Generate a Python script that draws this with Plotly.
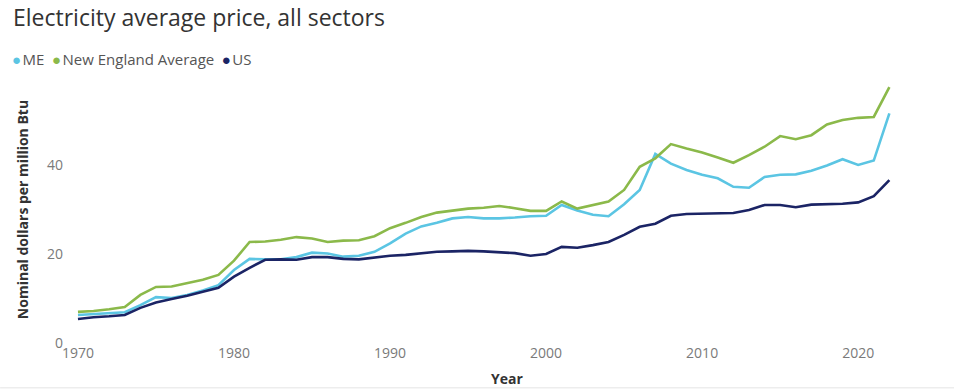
import plotly.graph_objects as go

# Annual average electricity price, all sectors (nominal $ per million Btu)
years = list(range(1970, 2023))

me = [6.3, 6.5, 6.8, 6.9, 8.5, 10.3, 10.1, 10.8, 11.8, 13.0,
      16.4, 18.9, 18.8, 18.8, 19.3, 20.3, 20.1, 19.4, 19.6, 20.5,
      22.4, 24.6, 26.2, 27.0, 28.0, 28.3, 28.0, 28.0, 28.2, 28.5,
      28.6, 31.0, 29.8, 28.8, 28.5, 31.2, 34.4, 42.5, 40.3, 38.9,
      37.8, 37.0, 35.1, 34.9, 37.3, 37.8, 37.9, 38.7, 39.9, 41.3,
      40.0, 41.0, 51.6]

new_england = [7.0, 7.2, 7.6, 8.1, 10.8, 12.6, 12.7, 13.5, 14.2, 15.3,
               18.5, 22.7, 22.8, 23.2, 23.8, 23.5, 22.7, 23.0, 23.1, 24.0,
               25.8, 27.0, 28.3, 29.3, 29.7, 30.2, 30.4, 30.8, 30.3, 29.7,
               29.7, 31.8, 30.2, 31.0, 31.8, 34.4, 39.6, 41.5, 44.7, 43.7,
               42.8, 41.7, 40.5, 42.2, 44.1, 46.5, 45.8, 46.7, 49.1, 50.1,
               50.6, 50.8, 57.5]

us = [5.4, 5.8, 6.0, 6.3, 7.9, 9.1, 9.9, 10.6, 11.5, 12.4,
      14.9, 16.9, 18.7, 18.8, 18.7, 19.3, 19.3, 18.9, 18.8, 19.2,
      19.6, 19.8, 20.2, 20.5, 20.6, 20.7, 20.6, 20.4, 20.2, 19.6,
      20.0, 21.6, 21.4, 22.0, 22.7, 24.3, 26.1, 26.8, 28.6, 29.0,
      29.1, 29.2, 29.2, 29.9, 31.0, 31.0, 30.5, 31.1, 31.2, 31.3,
      31.6, 33.0, 36.6]

series_names = ["ME", "New England Average", "US"]
series_values = [me, new_england, us]
series_colors = ["#5BC5E3", "#8BB94A", "#1B2465"]

x_ticks = [1970, 1980, 1990, 2000, 2010, 2020]
y_ticks = [0, 20, 40]

FONT = "Open Sans"
TICK_GREY = "#7a7a7a"

fig = go.Figure()
for name, vals, color in zip(series_names, series_values, series_colors):
    fig.add_trace(go.Scatter(
        x=years, y=vals, name=name, mode="lines",
        line=dict(color=color, width=2.6),
        showlegend=False,
    ))

# Compact inline legend: coloured bullet followed by series name
legend_text = "\u2002".join(
    f'<span style="color:{c}">●</span>\u200a<span style="color:#555555">{n}</span>'
    for n, c in zip(series_names, series_colors)
)

fig.update_layout(
    width=954, height=392,
    margin=dict(l=70, r=10, t=76, b=49),
    paper_bgcolor="white", plot_bgcolor="white",
    font=dict(family=FONT, color=TICK_GREY, size=14),
    title=dict(
        text="Electricity average price, all sectors",
        x=0, xref="container", xanchor="left", y=1,
        yref="container", yanchor="top",
        pad=dict(l=13, t=10),
        font=dict(family=FONT, size=23, color="#333333"),
    ),
    annotations=[dict(
        text=legend_text, xref="paper", yref="paper",
        x=-0.069, y=1.063, xanchor="left", yanchor="middle",
        showarrow=False, font=dict(family=FONT, size=15),
    )],
    xaxis=dict(
        range=[1969.49, 2025.5],
        tickvals=x_ticks, ticktext=[str(t) for t in x_ticks],
        showgrid=False, zeroline=False, showline=False,
        automargin=False,
        tickfont=dict(size=14, color=TICK_GREY),
        title=dict(text="<b>Year</b>", standoff=13,
                   font=dict(size=14, color="#333333")),
    ),
    yaxis=dict(
        range=[0, 60],
        tickvals=y_ticks, ticktext=[str(t) for t in y_ticks],
        showgrid=False, zeroline=False, showline=False,
        automargin=False,
        tickfont=dict(size=14, color=TICK_GREY),
        ticklabelstandoff=6,
        title=dict(text="<b>Nominal dollars per million Btu</b>", standoff=15,
                   font=dict(size=14, color="#333333")),
    ),
    shapes=[dict(
        type="line", xref="paper", yref="paper",
        x0=-0.08, x1=1.02, y0=-0.168, y1=-0.168,
        line=dict(color="#e4e4e4", width=1),
    )],
)

fig.write_html("out.html")
